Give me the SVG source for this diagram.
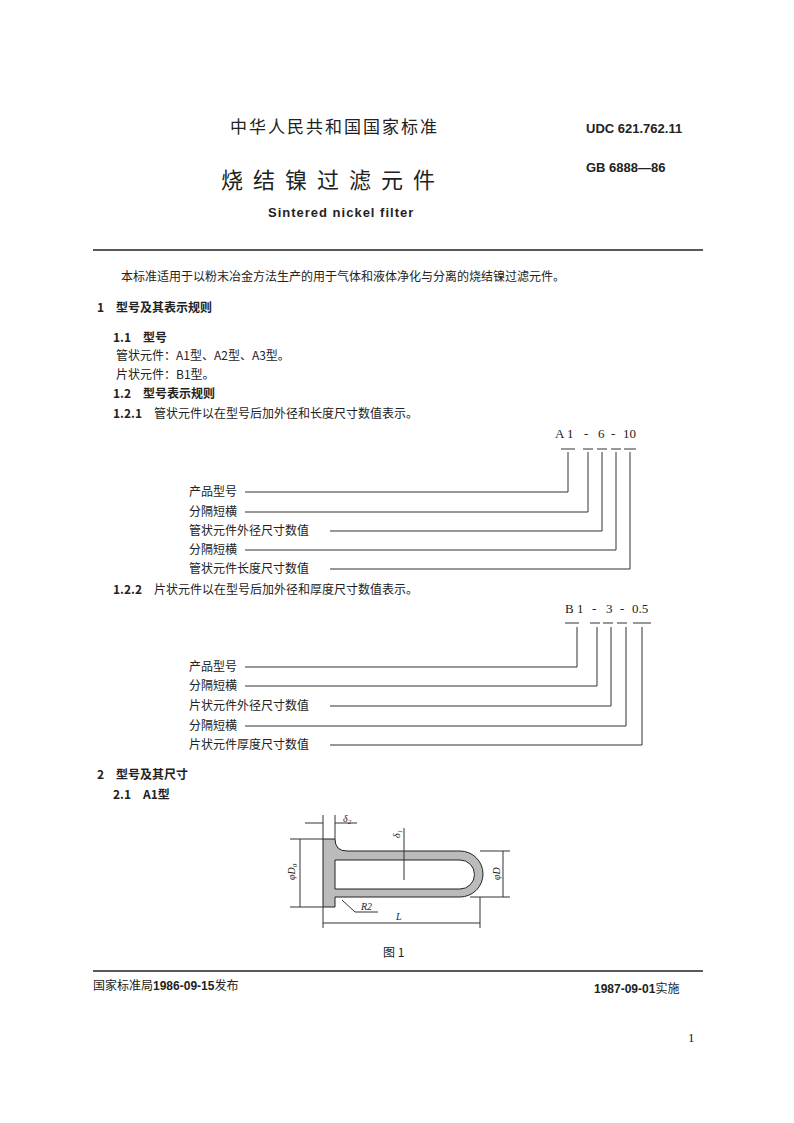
<svg xmlns="http://www.w3.org/2000/svg" width="794" height="1123" viewBox="0 0 794 1123">
<style>
.c{font-family:"Noto Sans CJK SC","Liberation Serif",serif;font-size:12px;fill:#222}
.h{font-family:"Noto Sans CJK SC",sans-serif;font-size:12px;font-weight:bold;fill:#222}
.m{font-family:"Liberation Serif","Noto Sans CJK SC",serif;font-size:13px;fill:#222}
.b{font-family:"Liberation Sans","Noto Sans CJK SC",sans-serif;font-size:12px;font-weight:bold;fill:#222}
.l{stroke:#333;stroke-width:1;fill:none}
.i{font-family:"Liberation Serif",serif;font-style:italic;font-size:10px;fill:#222}
</style>
<rect width="794" height="1123" fill="#fff"/>
<text x="230" y="133" class="c" style="font-size:17px;letter-spacing:2px">中华人民共和国国家标准</text>
<text x="586" y="133" class="b" style="font-size:13px">UDC 621.762.11</text>
<text x="586" y="172" class="b" style="font-size:13px">GB 6888—86</text>
<text x="221" y="188" class="c" style="font-size:22px;letter-spacing:10px">烧结镍过滤元件</text>
<text x="268" y="217" class="b" style="font-size:13px;letter-spacing:1px">Sintered nickel filter</text>
<line x1="93" y1="250" x2="703" y2="250" stroke="#222" stroke-width="1.5"/>
<text x="121" y="281" class="c">本标准适用于以粉末冶金方法生产的用于气体和液体净化与分离的烧结镍过滤元件。</text>
<text x="97" y="312" class="h">1　型号及其表示规则</text>
<text x="113" y="342" class="h">1.1　型号</text>
<text x="116" y="360" class="c">管状元件：A1型、A2型、A3型。</text>
<text x="116" y="379" class="c">片状元件：B1型。</text>
<text x="113" y="398" class="h">1.2　型号表示规则</text>
<text x="113" y="418" class="c"><tspan class="h">1.2.1</tspan>　管状元件以在型号后加外径和长度尺寸数值表示。</text>
<g id="code1">
<text y="438" class="m"><tspan x="555">A</tspan><tspan x="567">1</tspan><tspan x="584">-</tspan><tspan x="598">6</tspan><tspan x="611">-</tspan><tspan x="623">10</tspan></text>
<path class="l" d="M561 449h14M583 449h10M597 449h10M611 449h10M624 449h12"/>
<text x="189" y="496" class="c">产品型号</text>
<text x="189" y="516" class="c">分隔短横</text>
<text x="189" y="535" class="c">管状元件外径尺寸数值</text>
<text x="189" y="554" class="c">分隔短横</text>
<text x="189" y="573" class="c">管状元件长度尺寸数值</text>
<path class="l" d="M245 492H568V452M245 512H588V452M330 531H602V452M245 550H616V452M330 569H630V452"/>
</g>
<text x="113" y="594" class="c"><tspan class="h">1.2.2</tspan>　片状元件以在型号后加外径和厚度尺寸数值表示。</text>
<g id="code2">
<text y="613" class="m"><tspan x="565">B</tspan><tspan x="577">1</tspan><tspan x="592">-</tspan><tspan x="606">3</tspan><tspan x="620">-</tspan><tspan x="632">0.5</tspan></text>
<path class="l" d="M565 623h14M590 623h10M603 623h10M617 623h10M633 623h18"/>
<text x="189" y="671" class="c">产品型号</text>
<text x="189" y="690" class="c">分隔短横</text>
<text x="189" y="710" class="c">片状元件外径尺寸数值</text>
<text x="189" y="730" class="c">分隔短横</text>
<text x="189" y="749" class="c">片状元件厚度尺寸数值</text>
<path class="l" d="M245 667H577V627M245 686H597V627M330 706H611V627M245 726H626V627M330 745H642V627"/>
</g>
<text x="97" y="779" class="h">2　型号及其尺寸</text>
<text x="113" y="799" class="h">2.1　A1型</text>
<g id="fig1">
<path d="M323 839H335Q335 851 347 851H460A23 23 0 0 1 460 897H335V907H323Z" fill="#bbb" stroke="#222"/>
<path d="M335 860H460A14.5 14.5 0 0 1 460 889H335Z" fill="#fff" stroke="#222"/>
<path class="l" d="M323 815V839M335 815V839M305 823H323M335 823H357M404 828V880M290 839H323M290 907H323M300 839V907M480 851H510M470 897H510M503 851V897M323 907V928M480 897V928M323 923H480M342 900L355 912H378"/>
<text x="343" y="822" class="i">δ<tspan font-size="7" dy="2">2</tspan></text>
<text x="400" y="838" class="i" transform="rotate(-90 400 838)">δ<tspan font-size="7" dy="2">1</tspan></text>
<text x="295" y="880" class="i" transform="rotate(-90 295 880)">φD<tspan font-size="7" dy="2">0</tspan></text>
<text x="500" y="880" class="i" transform="rotate(-90 500 880)">φD</text>
<text x="361" y="910" class="i">R2</text>
<text x="396" y="920" class="i">L</text>
<text x="383" y="957" class="c">图 1</text>
</g>
<line x1="93" y1="971" x2="703" y2="971" stroke="#222" stroke-width="1.5"/>
<text x="93" y="990" class="c"><tspan>国家标准局</tspan><tspan class="b">1986-09-15</tspan><tspan>发布</tspan></text>
<text x="594" y="993" class="c"><tspan class="b">1987-09-01</tspan><tspan>实施</tspan></text>
<text x="688" y="1042" class="m">1</text>
</svg>
